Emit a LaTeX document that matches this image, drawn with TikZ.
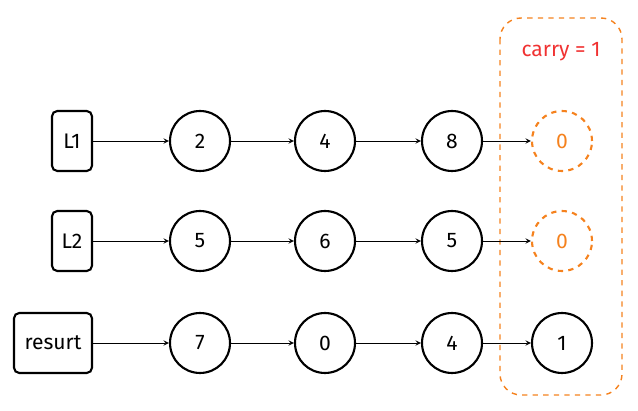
\documentclass[tikz,border=0pt]{standalone}
\usepackage{fontspec}
\setmainfont{Fira Sans}
\usetikzlibrary{positioning}
\definecolor{carryorange}{RGB}{245,130,30}
\definecolor{carryred}{RGB}{240,50,50}
\tikzset{
  head/.style={draw,very thick,rounded corners=3pt,minimum height=1.2cm,font=\large},
  elem/.style={draw,very thick,circle,minimum size=1.2cm,font=\large},
  carry/.style={elem,draw=carryorange,dashed,text=carryorange},
  link/.style={->,>=stealth}
}
\begin{document}
\begin{tikzpicture}[x=0.02cm,y=-0.02cm]
       \useasboundingbox (0,0) rectangle (638,411);
       % Uebertrag
       \draw[carryorange,thick,dashed,rounded corners=12pt] (500,18) rectangle (622,395);
       \node[text=carryred,font=\large] (carrytxt) at (561,52) {carry = 1};
       % L1
       \node[head,minimum width=0.8cm] (l1) at (72,141) {L1};
       \node[elem] (a1) at (200,141) {2};
       \node[elem] (a2) at (325,141) {4};
       \node[elem] (a3) at (452,141) {8};
       \node[carry] (a4) at (562,141) {0};
       % L2
       \node[head,minimum width=0.8cm] (l2) at (72,241) {L2};
       \node[elem] (b1) at (200,241) {5};
       \node[elem] (b2) at (325,241) {6};
       \node[elem] (b3) at (452,241) {5};
       \node[carry] (b4) at (562,241) {0};
       % Ergebnis
       \node[head,minimum width=1.56cm] (res) at (53,343) {resurt};
       \node[elem] (c1) at (200,343) {7};
       \node[elem] (c2) at (325,343) {0};
       \node[elem] (c3) at (452,343) {4};
       \node[elem] (c4) at (562,343) {1};
       %
       \foreach \r/\s in {l1/a,l2/b,res/c}{
         \draw[link] (\r) -- (\s1);
         \draw[link] (\s1) -- (\s2);
         \draw[link] (\s2) -- (\s3);
         \draw[link] (\s3) -- (\s4);
       }
\end{tikzpicture}
\end{document}
